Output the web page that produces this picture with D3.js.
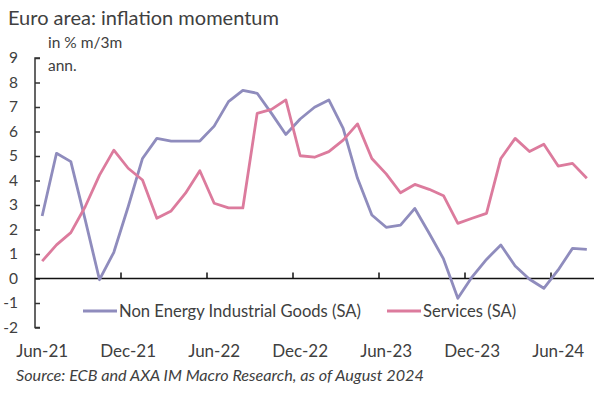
<!DOCTYPE html>
<html>
<head>
<meta charset="utf-8">
<script src="https://cdn.jsdelivr.net/npm/d3@7"></script>
<style>
  body { margin: 0; background: #fff; }
  svg { display: block; font-family: Lato, "Open Sans", sans-serif; }
</style>
</head>
<body>
<svg id="chart" width="616" height="393"></svg>
<script>
// ---- data ----
const months = ["Jun-21","Jul-21","Aug-21","Sep-21","Oct-21","Nov-21","Dec-21","Jan-22","Feb-22","Mar-22","Apr-22","May-22","Jun-22","Jul-22","Aug-22","Sep-22","Oct-22","Nov-22","Dec-22","Jan-23","Feb-23","Mar-23","Apr-23","May-23","Jun-23","Jul-23","Aug-23","Sep-23","Oct-23","Nov-23","Dec-23","Jan-24","Feb-24","Mar-24","Apr-24","May-24","Jun-24","Jul-24","Aug-24"];
const neig = [2.55,5.11,4.77,2.4,-0.05,1.07,2.93,4.9,5.72,5.61,5.61,5.61,6.22,7.22,7.68,7.56,6.74,5.88,6.51,6.99,7.29,6.13,4.09,2.59,2.09,2.18,2.86,1.85,0.8,-0.81,0.07,0.78,1.37,0.51,-0.03,-0.4,0.35,1.23,1.19];
const services = [0.71,1.37,1.87,2.93,4.22,5.24,4.5,4.02,2.46,2.76,3.48,4.4,3.07,2.88,2.88,6.74,6.9,7.29,5.01,4.95,5.18,5.65,6.31,4.9,4.27,3.5,3.84,3.64,3.38,2.25,2.46,2.66,4.9,5.72,5.18,5.48,4.59,4.7,4.09];
const xTickLabels = ["Jun-21","Dec-21","Jun-22","Dec-22","Jun-23","Dec-23","Jun-24"];
const yTicks = [-2,-1,0,1,2,3,4,5,6,7,8,9];
const seriesNames = ["Non Energy Industrial Goods (SA)","Services (SA)"];

// ---- layout ----
const svg = d3.select("#chart");
const textColor = "#404040";
const colNeig = "#8f8cbd";
const colServ = "#dc7b9d";

const x = d3.scaleBand().domain(months).range([35, 594]).paddingInner(0).paddingOuter(0);
const y = d3.scaleLinear().domain([-2, 9]).range([327.5, 58]);
const cx = m => x(m) + x.bandwidth() / 2;

// title
svg.append("text").attr("x", 8).attr("y", 25)
  .attr("font-size", 20).attr("fill", textColor)
  .text("Euro area: inflation momentum");
svg.append("text").attr("x", 48).attr("y", 48)
  .attr("font-size", 15.5).attr("fill", textColor).text("in % m/3m");
svg.append("text").attr("x", 48).attr("y", 71)
  .attr("font-size", 15.5).attr("fill", textColor).text("ann.");

// y axis
const yAxis = d3.axisRight(y).tickValues(yTicks).tickSize(5).tickFormat("");
const gy = svg.append("g").attr("transform", "translate(35,0)").call(yAxis);
gy.select(".domain").attr("stroke", "#333").attr("stroke-width", 1.5)
  .attr("d", `M5,${y(9)}H0V${y(-2)}H5`);
gy.selectAll(".tick line").attr("stroke", "#333").attr("stroke-width", 1.5);

svg.append("g").selectAll("text").data(yTicks).join("text")
  .attr("x", 18).attr("y", d => y(d)).attr("dy", "0.35em")
  .attr("text-anchor", "end").attr("font-size", 15.5).attr("fill", textColor)
  .text(d => d);

// x axis at zero
const tickBounds = months.filter((m, i) => i > 0 && i % 6 === 0);
const gx = svg.append("g");
gx.append("line").attr("x1", x.range()[0]).attr("x2", x.range()[1])
  .attr("y1", y(0)).attr("y2", y(0)).attr("stroke", "#111").attr("stroke-width", 1.6);
gx.selectAll("line.tk").data(tickBounds).join("line").attr("class", "tk")
  .attr("x1", d => x(d)).attr("x2", d => x(d))
  .attr("y1", y(0)).attr("y2", y(0) - 6).attr("stroke", "#111").attr("stroke-width", 1.5);

svg.append("g").selectAll("text").data(xTickLabels).join("text")
  .attr("x", d => cx(d)).attr("y", 357).attr("text-anchor", "middle")
  .attr("font-size", 17).attr("fill", textColor).text(d => d);

// lines
const line = d3.line().x((d, i) => cx(months[i])).y(d => y(d));
svg.append("path").datum(neig).attr("d", line).attr("fill", "none")
  .attr("stroke", colNeig).attr("stroke-width", 2.8).attr("stroke-linejoin", "round");
svg.append("path").datum(services).attr("d", line).attr("fill", "none")
  .attr("stroke", colServ).attr("stroke-width", 2.8).attr("stroke-linejoin", "round");

// legend
const legend = [
  {name: seriesNames[0], color: colNeig, x0: 83},
  {name: seriesNames[1], color: colServ, x0: 387}
];
const lg = svg.append("g");
legend.forEach(l => {
  lg.append("line").attr("x1", l.x0).attr("x2", l.x0 + 34).attr("y1", 311).attr("y2", 311)
    .attr("stroke", l.color).attr("stroke-width", 2.8);
  lg.append("text").attr("x", l.x0 + 36).attr("y", 316.5).attr("font-size", 16.6)
    .attr("fill", textColor).text(l.name);
});

// source
svg.append("text").attr("x", 16).attr("y", 381).attr("font-size", 16.2)
  .attr("font-style", "italic").attr("fill", textColor)
  .text("Source: ECB and AXA IM Macro Research, as of August 2024");
</script>
</body>
</html>
